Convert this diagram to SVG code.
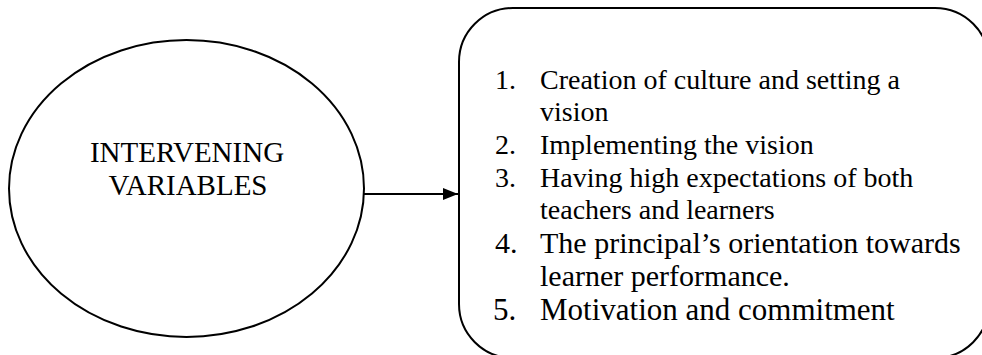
<svg xmlns="http://www.w3.org/2000/svg" width="982" height="355" viewBox="0 0 982 355">
<style>
.shape{fill:#fff;stroke:#000;stroke-width:2}
.t{font-family:"Liberation Serif","Times New Roman",serif;fill:#000}
.l{font-size:28px}
.m{font-size:30px}
</style>
<defs>
<marker id="ah" viewBox="0 0 15 12" refX="15" refY="6" markerWidth="15" markerHeight="12" markerUnits="userSpaceOnUse" orient="auto">
<path d="M0,0 L15,6 L0,12 z" fill="#000"/>
</marker>
<clipPath id="lastclip"><rect x="480" y="280" width="460" height="41"/></clipPath>
</defs>
<rect width="982" height="355" fill="#fff"/>
<g id="intervening">
<ellipse class="shape" cx="186.5" cy="188.5" rx="177.5" ry="148.5"/>
<text class="t" font-size="29" text-anchor="middle" x="187" y="162">INTERVENING</text>
<text class="t" font-size="29" text-anchor="middle" x="188" y="195">VARIABLES</text>
</g>
<g id="connectors">
<line x1="364" y1="194" x2="458" y2="194" stroke="#000" stroke-width="2" marker-end="url(#ah)"/>
</g>
<g id="factors">
<rect class="shape" x="459" y="8" width="530" height="350" rx="54" ry="54"/>
<g class="t l">
<text x="495" y="89">1.</text><text x="540" y="89">Creation of culture and setting a</text>
<text x="540" y="121">vision</text>
<text x="495" y="154">2.</text><text x="540" y="154">Implementing the vision</text>
<text x="495" y="187">3.</text><text x="540" y="187">Having high expectations of both</text>
<text x="540" y="219">teachers and learners</text>
</g>
<g class="t m">
<text x="495" y="253">4.</text><text x="540" y="253">The principal’s orientation towards</text>
<text x="540" y="286">learner performance.</text>
</g>
<g class="t" font-size="31" clip-path="url(#lastclip)">
<text x="493" y="320">5.</text><text x="540" y="320">Motivation and commitment</text>
</g>
</g>
</svg>
